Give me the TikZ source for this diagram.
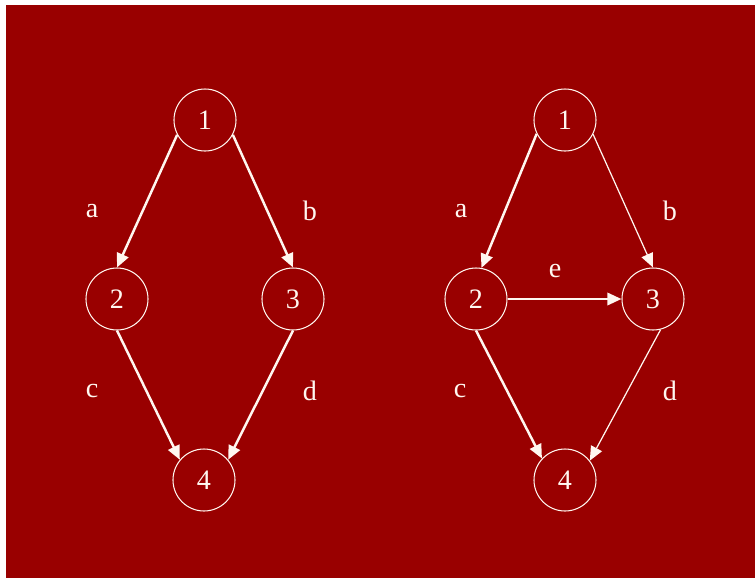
\documentclass[tikz,border=0pt]{standalone}
\usepackage{fontspec}
\setmainfont{Liberation Serif}
\usetikzlibrary{arrows.meta}
\definecolor{BackClr}{rgb}{0.6,0,0}
\definecolor{LineClr}{rgb}{1,0.97,0.94}

\begin{document}
\begin{tikzpicture}[x=0.02cm,y=-0.02cm,
  vertex/.style={circle,draw=LineClr,line width=0.6pt,minimum size=62*0.02cm,inner sep=0pt,
    text=LineClr,font=\fontsize{16}{18}\selectfont},
  lbl/.style={text=LineClr,font=\fontsize{16}{18}\selectfont},
  heavy/.style={draw=LineClr,line width=1.4pt,-{Triangle[length=8pt,width=7pt]}},
  light/.style={draw=LineClr,line width=0.7pt,-{Triangle[length=8pt,width=7pt]}}]
\useasboundingbox (0,0) rectangle (755,579);
\fill[BackClr] (6,5) rectangle (755,578);

% left network
\node[vertex] (L1) at (205,120) {1};
\node[vertex] (L2) at (117,299) {2};
\node[vertex] (L3) at (293,299) {3};
\node[vertex] (L4) at (204,480) {4};

\node[lbl] (La) at (92,211) {a};
\node[lbl] (Lb) at (310,211) {b};
\node[lbl] (Lc) at (92,391) {c};
\node[lbl] (Ld) at (310,391) {d};

\draw[heavy] (L1.208) -- (L2.north);
\draw[heavy] (L1.-28) -- (L3.north);
\draw[heavy] (L2.south) -- (L4.140);
\draw[heavy] (L3.south) -- (L4.40);

% right network
\node[vertex] (R1) at (565,120) {1};
\node[vertex] (R2) at (476,299) {2};
\node[vertex] (R3) at (653,299) {3};
\node[vertex] (R4) at (565,480) {4};

\node[lbl] (Ra) at (461,211) {a};
\node[lbl] (Rb) at (670,211) {b};
\node[lbl] (Re) at (555,271) {e};
\node[lbl] (Rc) at (460,391) {c};
\node[lbl] (Rd) at (670,391) {d};

\draw[heavy] (R1.206) -- (R2.80);
\draw[light] (R1.-27) -- (R3.north);
\draw[heavy] (R2.east) -- (R3.west);
\draw[heavy] (R2.south) -- (R4.137);
%\draw[heavy] (R3.south) -- (R4.40);
\draw[light] (R3.-76) -- (R4.38);

\end{tikzpicture}
\end{document}
